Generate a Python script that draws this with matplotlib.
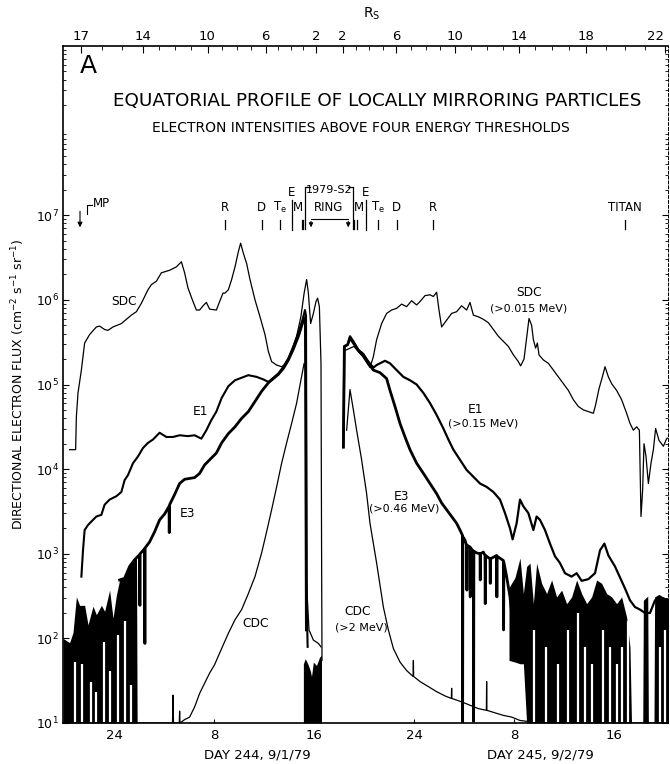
import numpy as np
import matplotlib
matplotlib.use("Agg")
import matplotlib.pyplot as plt
from matplotlib.transforms import blended_transform_factory

plt.rcParams['font.family'] = ['DejaVu Sans']

# ---------------- data (hours after 00 UT day 244; values are log10 flux) ----------------
time_ticks = [0, 8, 16, 24, 32, 40]
time_labels = ["24", "8", "16", "24", "8", "16"]

rs_values = [17, 14, 10, 6, 2, 2, 6, 10, 14, 18, 22]
rs_hours = [-2.64, 2.32, 7.48, 12.12, 16.16, 18.28, 22.56, 27.28, 32.36, 37.76, 44.04]

ytick_exp = [1, 2, 3, 4, 5, 6, 7]

# SDC (>0.015 MeV) inbound
sdc_in_h = [-3.55, -3.07, -3.01, -2.88, -2.61, -2.35, -1.95, -1.41, -1.15, -0.75, -0.48, -0.08,
            0.59, 1.39, 1.79, 2.19, 2.72, 2.99, 3.39, 3.79, 4.45, 4.99, 5.39, 5.65, 5.92, 6.32,
            6.59, 6.85, 7.12, 7.39, 7.65, 8.19, 8.45, 8.72, 8.88, 9.15, 9.41, 9.68, 9.95, 10.13,
            10.35, 10.61, 10.88, 11.28, 11.68, 12.08, 12.35, 12.61, 13.01, 13.41, 13.81, 14.21,
            14.61, 14.95, 15.21, 15.41, 15.55, 15.73, 15.95, 16.16, 16.29, 16.43, 16.56, 16.61, 16.64]
sdc_in_v = [4.23, 4.23, 4.62, 4.90, 5.17, 5.49, 5.59, 5.68, 5.69, 5.65, 5.64, 5.68,
            5.72, 5.82, 5.86, 5.96, 6.12, 6.18, 6.22, 6.32, 6.35, 6.39, 6.45, 6.32, 6.14, 5.98,
            5.88, 5.88, 5.93, 5.97, 5.89, 5.88, 5.98, 6.08, 6.08, 6.12, 6.24, 6.39, 6.57, 6.67,
            6.55, 6.43, 6.24, 6.00, 5.80, 5.59, 5.39, 5.27, 5.23, 5.21, 5.25, 5.40,
            5.57, 5.80, 6.08, 6.24, 6.08, 5.72, 5.84, 5.98, 6.02, 5.92, 5.25, 2.89, 1.74]

# SDC outbound
sdc_out_h = [18.45, 19.2, 19.9, 20.48, 20.75, 21.01, 21.41, 21.81, 22.21, 22.61, 23.01, 23.41,
             23.81, 24.21, 24.48, 24.88, 25.28, 25.55, 25.81, 26.0, 26.21, 26.61, 27.01, 27.41,
             27.81, 28.21, 28.48, 28.75, 29.15, 29.55, 29.95, 30.35, 30.75, 31.15, 31.55, 31.95,
             32.35, 32.53, 32.8, 33.01, 33.2, 33.41, 33.55, 33.73, 33.87, 34.0, 34.35, 34.75,
             35.15, 35.55, 35.95, 36.35, 36.75, 37.15, 37.55, 37.95, 38.35, 38.53, 38.8, 39.07,
             39.28, 39.55, 39.81, 40.21, 40.61, 41.01, 41.28, 41.55, 41.81, 42.03, 42.16, 42.29,
             42.4, 42.56, 42.75, 42.96, 43.15, 43.33, 43.6, 43.95, 44.21, 44.48]
sdc_out_v = [5.40, 5.45, 5.33, 5.20, 5.33, 5.53, 5.72, 5.84, 5.88, 5.90, 5.95, 5.92,
             5.99, 5.94, 5.98, 6.05, 6.06, 6.04, 6.09, 5.88, 5.68, 5.76, 5.84, 5.86,
             5.93, 5.88, 5.97, 5.82, 5.80, 5.77, 5.73, 5.65, 5.57, 5.51, 5.45, 5.35,
             5.27, 5.22, 5.30, 5.55, 5.78, 5.70, 5.53, 5.43, 5.49, 5.35, 5.29, 5.25,
             5.17, 5.09, 5.01, 4.93, 4.82, 4.74, 4.70, 4.68, 4.66, 4.76, 4.95, 5.09,
             5.21, 5.09, 5.01, 4.93, 4.82, 4.66, 4.54, 4.46, 4.50, 4.46, 3.44, 3.75,
             4.30, 4.15, 3.83, 4.07, 4.23, 4.48, 4.34, 4.27, 4.36, 4.38]

# E1 (>0.15 MeV)
e1_in_h = [-2.61, -2.48, -2.35, -2.08, -1.68, -1.41, -1.01, -0.75, -0.35, 0.19, 0.59, 0.85, 1.12,
           1.52, 1.92, 2.32, 2.72, 3.12, 3.65, 4.19, 4.72, 5.25, 5.92, 6.45, 6.99, 7.39, 7.79,
           8.19, 8.61, 9.15, 9.68, 10.21, 10.75, 11.41, 11.95, 12.35, 12.75, 13.15, 13.55, 13.95,
           14.35, 14.75, 15.07, 15.28, 15.36, 15.41, 15.49]
e1_in_v = [2.73, 3.04, 3.28, 3.34, 3.40, 3.44, 3.46, 3.58, 3.64, 3.68, 3.73, 3.87, 3.93,
           4.07, 4.15, 4.25, 4.31, 4.35, 4.43, 4.38, 4.38, 4.40, 4.39, 4.40, 4.36, 4.46, 4.58,
           4.68, 4.84, 4.98, 5.05, 5.08, 5.11, 5.09, 5.06, 5.03, 5.08, 5.13, 5.21, 5.31,
           5.45, 5.61, 5.76, 5.88, 5.81, 2.49, 1.90]
e1_out_h = [18.35, 18.43, 18.69, 18.88, 19.15, 19.55, 19.95, 20.35, 20.75, 21.01, 21.68, 22.08,
            22.61, 23.15, 23.68, 24.21, 24.75, 25.28, 25.81, 26.35, 26.75, 27.15, 27.68, 28.21,
            28.75, 29.28, 29.81, 30.35, 30.88, 31.28, 31.68, 31.89, 32.21, 32.48, 32.75, 33.15,
            33.55, 33.81, 34.08, 34.48, 34.88, 35.28, 35.68, 36.08, 36.61, 37.01, 37.41, 37.95,
            38.48, 38.88, 39.23, 39.55, 40.08, 40.48, 40.88, 41.28, 41.68, 42.08, 42.48, 42.88,
            43.28, 43.81, 44.35]
e1_out_v = [4.26, 5.45, 5.47, 5.57, 5.51, 5.41, 5.36, 5.27, 5.20, 5.23, 5.28, 5.25,
            5.17, 5.09, 5.05, 5.00, 4.90, 4.78, 4.64, 4.48, 4.35, 4.23, 4.11, 3.99,
            3.91, 3.83, 3.79, 3.73, 3.64, 3.48, 3.30, 3.17, 3.36, 3.64, 3.56, 3.48,
            3.28, 3.44, 3.40, 3.28, 3.12, 2.97, 2.89, 2.77, 2.73, 2.77, 2.68, 2.70,
            2.77, 3.04, 3.12, 2.98, 2.85, 2.72, 2.59, 2.45, 2.37, 2.34, 2.30, 2.30,
            2.45, 2.48, 2.45]

# E3 (>0.46 MeV)
e3_in_h = [0.45, 0.85, 1.25, 1.65, 2.05, 2.07, 2.09, 2.45, 2.47, 2.49, 2.85, 3.25, 3.65, 4.05,
           4.40, 4.42, 4.45, 4.85, 5.25, 5.65, 6.05, 6.45, 6.85, 7.25, 7.65, 8.19, 8.61, 9.15,
           9.68, 10.21, 10.75, 11.28, 11.81, 12.35, 12.75, 13.15, 13.55, 13.95, 14.35, 14.75,
           15.07, 15.21, 15.31, 15.39]
e3_in_v = [2.69, 2.71, 2.85, 2.93, 2.99, 2.39, 3.00, 3.06, 1.94, 3.07, 3.14, 3.26, 3.40, 3.47,
           3.56, 3.25, 3.58, 3.70, 3.83, 3.88, 3.89, 3.90, 3.95, 4.05, 4.11, 4.19, 4.31, 4.42,
           4.50, 4.60, 4.68, 4.80, 4.92, 5.02, 5.07, 5.12, 5.19, 5.29, 5.42, 5.57,
           5.72, 5.79, 5.76, 2.10]
e3_out_h = [18.35, 18.43, 18.69, 18.88, 19.15, 19.55, 19.95, 20.35, 20.75, 21.28, 21.81, 22.08,
            22.48, 22.88, 23.28, 23.68, 24.21, 24.75, 25.28, 25.81, 26.21, 26.61, 27.01, 27.41,
            27.68, 27.87, 27.89, 27.91, 28.08, 28.21, 28.23, 28.25, 28.48, 28.50, 28.52, 28.75,
            28.77, 28.79, 29.01, 29.28, 29.30, 29.32, 29.55, 29.68, 29.70, 29.72, 30.08, 30.10,
            30.12, 30.61, 30.63, 30.65, 31.15, 31.17, 31.19, 31.41, 31.68, 31.95, 32.2]
e3_out_v = [4.26, 5.45, 5.47, 5.55, 5.49, 5.40, 5.34, 5.25, 5.17, 5.14, 5.07, 4.93,
            4.74, 4.54, 4.38, 4.23, 4.07, 3.95, 3.83, 3.71, 3.60, 3.52, 3.44, 3.36,
            3.28, 3.22, 1.00, 3.20, 3.16, 3.10, 2.57, 3.10, 3.08, 2.49, 3.07, 3.03,
            1.02, 3.03, 3.01, 3.00, 2.69, 3.00, 3.02, 2.98, 2.41, 2.98, 2.94, 2.65,
            2.94, 2.98, 2.49, 2.97, 2.92, 2.10, 2.90, 2.73, 2.49, 2.10, 2.60]

# CDC (>2 MeV)
cdc_in_h = [-4.0, 4.68, 4.72, 4.76, 5.22, 5.25, 5.28, 5.65, 6.05, 6.45, 6.85, 7.25, 7.65, 8.05,
            8.61, 9.15, 9.68, 10.21, 10.75, 11.28, 11.81, 12.21, 12.61, 13.01, 13.41, 13.81,
            14.21, 14.61, 14.95, 15.21, 15.31, 15.39, 15.6, 15.95, 16.35, 16.56]
cdc_in_v = [1.0, 1.0, 1.33, 1.0, 1.0, 1.14, 1.0, 1.04, 1.07, 1.19, 1.35, 1.47, 1.59, 1.69,
            1.88, 2.06, 2.22, 2.34, 2.53, 2.73, 3.01, 3.26, 3.52, 3.79, 4.07, 4.31,
            4.54, 4.78, 5.05, 5.25, 5.21, 2.69, 2.10, 1.98, 1.94, 1.90]
cdc_out_h = [18.61, 18.88, 19.15, 19.41, 19.81, 20.21, 20.48, 21.01, 21.55, 21.95, 22.35, 22.88,
             23.41, 23.93, 23.95, 23.97, 24.48, 25.15, 25.81, 26.48, 26.99, 27.01, 27.03, 27.81,
             28.48, 29.15, 29.79, 29.81, 29.83, 30.48, 31.15, 31.81, 32.48, 33.01, 33.7, 44.4]
cdc_out_v = [4.46, 4.94, 4.70, 4.46, 4.11, 3.71, 3.36, 2.89, 2.37, 2.10, 1.88, 1.72,
             1.62, 1.55, 1.74, 1.55, 1.49, 1.43, 1.37, 1.32, 1.29, 1.41, 1.29, 1.25,
             1.21, 1.17, 1.15, 1.49, 1.15, 1.12, 1.09, 1.07, 1.03, 1.02, 1.0, 1.0]

# noisy (background-dominated) regions: upper envelope of the black area
noise_l_h = [-4.08, -3.55, -3.28, -3.01, -2.75, -2.35, -2.08, -1.68, -1.41, -1.01, -0.75, -0.35,
             -0.08, 0.19, 0.45, 0.85, 1.25, 1.65, 1.80, 1.85]
noise_l_top = [2.00, 1.95, 2.07, 2.49, 2.39, 2.39, 2.16, 2.38, 2.28, 2.39, 2.32, 2.57,
               2.24, 2.51, 2.69, 2.71, 2.85, 2.93, 2.95, 1.0]
gap_l_h = [-3.15, -2.53, -1.81, -1.41, -0.77, -0.29, 0.32, 0.85, 1.39]
gap_l_top = [1.72, 1.70, 1.49, 1.37, 1.96, 1.61, 2.04, 2.20, 1.45]

ring_h = [15.15, 15.3, 15.5, 15.7, 15.8, 15.95, 16.2, 16.45, 16.6]
ring_top = [1.70, 1.76, 1.70, 1.62, 1.55, 1.72, 1.68, 1.78, 1.80]

noise_r_h = [31.6, 32.08, 32.48, 32.75, 33.01, 33.28, 33.55, 33.81, 34.21, 34.61, 35.01, 35.41,
             35.81, 36.21, 36.61, 37.01, 37.41, 37.81, 38.21, 38.61, 39.01, 39.41, 39.81, 40.21,
             40.61, 41.01, 41.28, 41.4, 42.3, 42.35, 42.7, 42.75, 43.2, 43.25, 43.6, 44.0, 44.4]
noise_r_top = [2.60, 2.72, 2.95, 2.53, 2.85, 2.89, 2.41, 2.89, 2.65, 2.53, 2.69, 2.49,
               2.57, 2.41, 2.49, 2.69, 2.53, 2.41, 2.49, 2.69, 2.65, 2.53, 2.49, 2.41,
               2.49, 2.25, 1.89, 1.0, 1.0, 2.45, 2.50, 1.0, 1.0, 2.49, 2.52, 2.48, 2.45]
noise_r_bot = [1.74, 1.72, 1.70, 1.70, 1.0, 1.0, 1.0, 1.0, 1.0, 1.0, 1.0, 1.0,
               1.0, 1.0, 1.0, 1.0, 1.0, 1.0, 1.0, 1.0, 1.0, 1.0, 1.0, 1.0,
               1.0, 1.0, 1.0, 1.0, 1.0, 1.0, 1.0, 1.0, 1.0, 1.0, 1.0, 1.0, 1.0]
gap_r_h = [33.63, 34.53, 35.49, 36.35, 37.15, 37.68, 38.27, 39.15, 39.68, 40.21, 40.67, 41.15,
           43.68, 44.08]
gap_r_top = [2.10, 1.90, 1.70, 2.10, 2.30, 1.90, 1.70, 2.10, 1.90, 1.70, 1.90, 2.20,
             1.90, 2.10]

# moon / ring markers
moon_labels = ["R", "D", r"$\mathregular{T_e}$", "M", "M", r"$\mathregular{T_e}$", "D", "R", "TITAN"]
moon_hours = [8.88, 11.82, 13.28, 14.74, 19.62, 21.15, 22.6, 25.55, 40.9]
bar_hours = [8.88, 11.82, 13.28, 15.01, 15.15, 19.22, 19.42, 21.15, 22.6, 25.55, 40.9]
e_hours = [14.22, 20.16]
s2_hours = [15.28, 19.09]
ring_hours = [15.76, 18.74]
mp_hour = -2.72

# ---------------- figure ----------------
fig = plt.figure(figsize=(6.7, 7.64), dpi=100)
ax = fig.add_axes([63 / 670, 41 / 764, 605 / 670, 677 / 764])
ax.set_yscale('log')
ax.set_xlim(-4.08, 44.32)
ax.set_ylim(10, 1e9)

def p(v):
    return 10.0 ** np.asarray(v, dtype=float)

# noise regions
ax.fill_between(noise_l_h, 10, p(noise_l_top), color='black', lw=0, zorder=2)
ax.fill_between(ring_h, 10, p(ring_top), color='black', lw=0, zorder=2)
ax.fill_between(noise_r_h, p(noise_r_bot), p(noise_r_top), color='black', lw=0, zorder=2)
ax.vlines(gap_l_h, 10, p(gap_l_top), color='white', lw=1.6, zorder=2.5)
ax.vlines(gap_r_h, 10, p(gap_r_top), color='white', lw=1.6, zorder=2.5)

# curves
kw = dict(color='black', solid_joinstyle='round', zorder=3)
ax.plot(sdc_in_h, p(sdc_in_v), lw=0.9, **kw)
ax.plot(sdc_out_h, p(sdc_out_v), lw=0.9, **kw)
ax.plot(e1_in_h, p(e1_in_v), lw=1.5, **kw)
ax.plot(e1_out_h, p(e1_out_v), lw=1.6, **kw)
ax.plot(e3_in_h, p(e3_in_v), lw=2.0, **kw)
ax.plot(e3_out_h, p(e3_out_v), lw=2.0, **kw)
ax.plot(cdc_in_h, p(cdc_in_v), lw=0.9, **kw)
ax.plot(cdc_out_h, p(cdc_out_v), lw=0.9, **kw)

# axes styling
for s in ['left', 'top', 'bottom']:
    ax.spines[s].set_linewidth(1.2)
ax.spines['right'].set_linewidth(0.7)
ax.spines['right'].set_linestyle((0, (3, 2)))

ax.set_yticks([10.0 ** k for k in ytick_exp])
ax.set_yticklabels([r'$10^{%d}$' % k for k in ytick_exp], fontsize=9)
ax.yaxis.set_minor_locator(matplotlib.ticker.LogLocator(base=10, subs=np.arange(2, 10) * 1.0, numticks=20))
ax.yaxis.set_minor_formatter(matplotlib.ticker.NullFormatter())
ax.tick_params(axis='y', which='major', direction='in', length=4, right=True, pad=3)
ax.tick_params(axis='y', which='minor', direction='in', length=2, right=True)

ax.set_xticks(time_ticks)
ax.set_xticklabels(time_labels, fontsize=9.5)
ax.tick_params(axis='x', which='major', direction='in', length=3, pad=4)

ax.set_ylabel(r'DIRECTIONAL ELECTRON FLUX (cm$^{-2}$ s$^{-1}$ sr$^{-1}$)', fontsize=9, labelpad=6)

# top R_S axis
ax2 = ax.twiny()
ax2.set_xlim(ax.get_xlim())
ax2.set_xticks(rs_hours)
rs_tl = ax2.set_xticklabels([str(v) for v in rs_values], fontsize=9.5)
rs_tl[-1].set_horizontalalignment('right')
minor = []
for i in range(len(rs_values) - 1):
    if rs_values[i] == rs_values[i + 1]:
        continue
    n = abs(rs_values[i + 1] - rs_values[i])
    minor.extend(np.linspace(rs_hours[i], rs_hours[i + 1], n + 1)[1:-1])
ax2.set_xticks(minor, minor=True)
ax2.tick_params(axis='x', which='major', direction='in', length=5, pad=2)
ax2.tick_params(axis='x', which='minor', direction='in', length=3)
for s in ax2.spines.values():
    s.set_visible(False)
fig.text(372 / 670, 1 - 14 / 764, r'$\mathregular{R_S}$', fontsize=10, ha='center', va='center')

# titles
fig.text(88 / 670, 1 - 66 / 764, 'A', fontsize=18, ha='center', va='center')
fig.text(377 / 670, 1 - 101 / 764, 'EQUATORIAL PROFILE OF LOCALLY MIRRORING PARTICLES',
         fontsize=13.2, ha='center', va='center')
fig.text(361 / 670, 1 - 128 / 764, 'ELECTRON INTENSITIES ABOVE FOUR ENERGY THRESHOLDS',
         fontsize=10, ha='center', va='center')

# day labels
tr = blended_transform_factory(ax.transData, ax.transAxes)
ax.text(11.5, -0.048, 'DAY 244, 9/1/79', transform=tr, fontsize=9.5, ha='center', va='center')
ax.text(34.1, -0.048, 'DAY 245, 9/2/79', transform=tr, fontsize=9.5, ha='center', va='center')

# moon markers
for lab, h in zip(moon_labels, moon_hours):
    ax.text(h, 0.762, lab, transform=tr, fontsize=8.5, ha='center', va='center')
for h in bar_hours:
    ax.plot([h, h], [0.729, 0.743], transform=tr, color='black', lw=0.9, clip_on=False)
for h in e_hours:
    ax.plot([h, h], [0.728, 0.772], transform=tr, color='black', lw=0.9)
    ax.text(h, 0.784, 'E', transform=tr, fontsize=8.5, ha='center', va='center')
ax.plot([s2_hours[0], s2_hours[0], s2_hours[0] + 0.4], [0.730, 0.792, 0.792], transform=tr, color='black', lw=0.9)
ax.plot([s2_hours[1] - 0.4, s2_hours[1], s2_hours[1]], [0.792, 0.792, 0.730], transform=tr, color='black', lw=0.9)
ax.text(sum(s2_hours) / 2, 0.788, '1979-S2', transform=tr, fontsize=8, ha='center', va='center')
ax.text(17.15, 0.762, 'RING', transform=tr, fontsize=8.5, ha='center', va='center')
ax.plot(ring_hours, [0.744, 0.744], transform=tr, color='black', lw=0.8)
for h in ring_hours:
    ax.annotate('', xy=(h, 0.728), xytext=(h, 0.745), xycoords=tr, textcoords=tr,
                arrowprops=dict(arrowstyle='-|>', lw=0.8, color='black', mutation_scale=6))
# MP
ax.annotate('', xy=(mp_hour, 0.728), xytext=(mp_hour, 0.760), xycoords=tr, textcoords=tr,
            arrowprops=dict(arrowstyle='-|>', lw=0.8, color='black', mutation_scale=7))
ax.plot([mp_hour + 0.55, mp_hour + 0.55, mp_hour + 0.95], [0.752, 0.765, 0.765], transform=tr, color='black', lw=0.8)
ax.text(mp_hour + 1.0, 0.767, 'MP', transform=tr, fontsize=8.5, ha='left', va='center')

# curve labels
lk = dict(fontsize=8.8, ha='center', va='center', zorder=5)
lk2 = dict(fontsize=8.0, ha='center', va='center', zorder=5)
ax.text(0.8, 9.5e5, 'SDC', **lk)
ax.text(6.9, 4.8e4, 'E1', **lk)
ax.text(5.9, 3.0e3, 'E3', **lk)
ax.text(11.3, 1.5e2, 'CDC', **lk)
ax.text(19.5, 2.1e2, 'CDC', **lk)
ax.text(19.8, 1.36e2, '(>2 MeV)', **lk2)
ax.text(23.0, 4.7e3, 'E3', **lk)
ax.text(23.25, 3.4e3, '(>0.46 MeV)', **lk2)
ax.text(28.9, 5.0e4, 'E1', **lk)
ax.text(29.5, 3.5e4, '(>0.15 MeV)', **lk2)
ax.text(33.2, 1.23e6, 'SDC', **lk)
ax.text(33.2, 8.0e5, '(>0.015 MeV)', **lk2)

fig.savefig('out.png', dpi=100)
